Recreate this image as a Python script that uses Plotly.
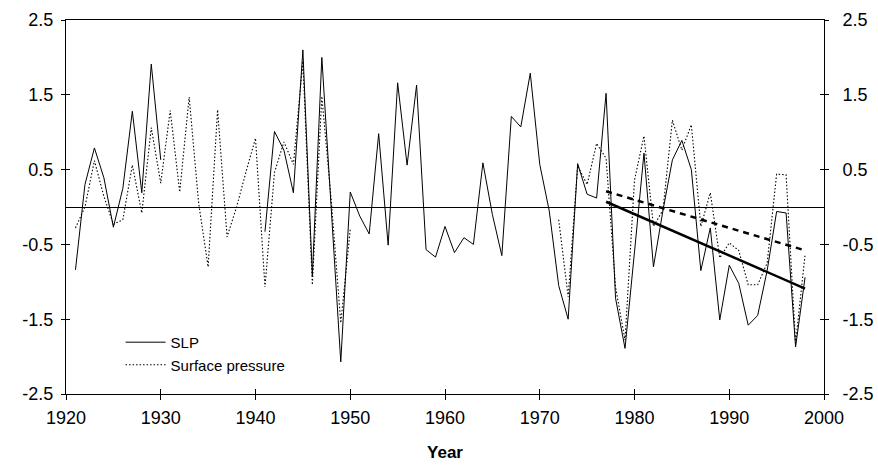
import plotly.graph_objects as go

years = list(range(1921, 1999))

slp = [
    -0.84, 0.30, 0.79, 0.39, -0.27, 0.25, 1.28, 0.19, 1.91, 0.63,          # 1921-1930
    None, None, None, None, None, None, None, None, None, None,            # 1931-1940
    -0.33, 1.01, 0.76, 0.19, 2.10, -0.92, 2.00, -0.05, -2.07, 0.20,        # 1941-1950
    -0.12, -0.36, 0.98, -0.51, 1.66, 0.56, 1.63, -0.57, -0.67, -0.26,      # 1951-1960
    -0.61, -0.41, -0.50, 0.59, -0.10, -0.65, 1.21, 1.07, 1.79, 0.57,       # 1961-1970
    -0.05, -1.05, -1.50, 0.58, 0.17, 0.12, 1.52, -1.22, -1.89, -0.60,      # 1971-1980
    0.72, -0.80, -0.05, 0.63, 0.89, 0.50, -0.85, -0.28, -1.51, -0.78,      # 1981-1990
    -1.02, -1.58, -1.45, -0.85, -0.06, -0.08, -1.87, -0.94,                # 1991-1998
]

surface_pressure = [
    -0.28, 0.00, 0.62, 0.14, -0.23, -0.17, 0.56, -0.08, 1.06, 0.32,       # 1921-1930
    1.29, 0.20, 1.47, 0.05, -0.80, 1.30, -0.40, 0.00, 0.47, 0.92,          # 1931-1940
    -1.07, 0.46, 0.87, 0.57, 1.95, -1.04, 1.48, 0.08, -1.55, -0.30,        # 1941-1950
    None, None, None, None, None, None, None, None, None, None,            # 1951-1960
    None, None, None, None, None, None, None, None, None, None,            # 1961-1970
    None, -0.17, -1.20, 0.55, 0.30, 0.85, 0.65, -1.07, -1.78, 0.36,        # 1971-1980
    0.95, -0.26, -0.04, 1.16, 0.76, 1.10, -0.26, 0.19, -0.68, -0.48,       # 1981-1990
    -0.58, -1.04, -1.04, -0.75, 0.44, 0.43, -1.82, -0.64,                  # 1991-1998
]

trend_years = [1977, 1998]
trend_slp = [0.07, -1.09]
trend_sp = [0.21, -0.58]

x_ticks = [1920, 1930, 1940, 1950, 1960, 1970, 1980, 1990, 2000]
y_ticks = [2.5, 1.5, 0.5, -0.5, -1.5, -2.5]
y_tick_labels = ["2.5", "1.5", "0.5", "-0.5", "-1.5", "-2.5"]

FONT = "Liberation Sans, Arial, sans-serif"

fig = go.Figure()

fig.add_trace(go.Scatter(
    x=years, y=slp, mode="lines", name="SLP",
    line=dict(color="black", width=1), connectgaps=False,
))
fig.add_trace(go.Scatter(
    x=years, y=surface_pressure, mode="lines", name="Surface pressure",
    line=dict(color="black", width=1.1, dash="1.5px,2px"), connectgaps=False,
))
fig.add_trace(go.Scatter(
    x=trend_years, y=trend_sp, mode="lines", showlegend=False,
    line=dict(color="black", width=2.5, dash="6px,5px"),
))
fig.add_trace(go.Scatter(
    x=trend_years, y=trend_slp, mode="lines", showlegend=False,
    line=dict(color="black", width=2.5),
))

# dummy traces to keep overlay axes (for crossing tick marks and right labels)
for xa, ya in [("x2", "y2"), ("x2", "y3"), ("x2", "y4")]:
    fig.add_trace(go.Scatter(x=[1920], y=[None], mode="lines", showlegend=False,
                             hoverinfo="skip", xaxis=xa, yaxis=ya))

common_y = dict(range=[-2.5, 2.5], tickvals=y_ticks, showgrid=False, zeroline=False,
                tickcolor="black", ticklen=4, tickwidth=1, automargin=False)

fig.update_layout(
    width=878, height=466,
    margin=dict(l=66, r=54, t=20, b=72, autoexpand=False),
    paper_bgcolor="white", plot_bgcolor="white",
    font=dict(family=FONT, color="black", size=18),
    showlegend=True,
    legend=dict(
        x=0.072, y=0.182, xanchor="left", yanchor="top",
        bgcolor="rgba(0,0,0,0)", font=dict(size=15, family=FONT),
        traceorder="normal", itemwidth=40,
    ),
    xaxis=dict(
        range=[1920, 2000], tickvals=x_ticks, ticks="outside", ticklen=5,
        tickcolor="black", showline=True, linecolor="black", linewidth=1,
        mirror=True, showgrid=False, zeroline=False, automargin=False,
        tickfont=dict(size=18), ticklabelstandoff=2,
        title=dict(text="<b>Year</b>", font=dict(size=17), standoff=19),
    ),
    xaxis2=dict(
        range=[1920, 2000], tickvals=x_ticks, ticks="inside", ticklen=5,
        tickcolor="black", overlaying="x", showticklabels=False, automargin=False,
        showline=False, showgrid=False, zeroline=False, anchor="y",
    ),
    yaxis=dict(
        **{k: v for k, v in common_y.items() if k != "zeroline"},
        ticktext=y_tick_labels, ticks="outside", side="left",
        showline=True, linecolor="black", linewidth=1,
        zeroline=True, zerolinecolor="black", zerolinewidth=1,
        tickfont=dict(size=18), ticklabelstandoff=4,
    ),
    yaxis2=dict(
        **common_y, ticktext=y_tick_labels, ticks="outside", side="right",
        overlaying="y", anchor="x2", showline=True, linecolor="black", linewidth=1,
        tickfont=dict(size=18), ticklabelstandoff=10,
    ),
    yaxis3=dict(
        **common_y, ticks="inside", side="left", overlaying="y", anchor="x2",
        showticklabels=False, showline=False,
    ),
    yaxis4=dict(
        **common_y, ticks="inside", side="right", overlaying="y", anchor="x2",
        showticklabels=False, showline=False,
    ),
)

fig.write_html("out.html")
